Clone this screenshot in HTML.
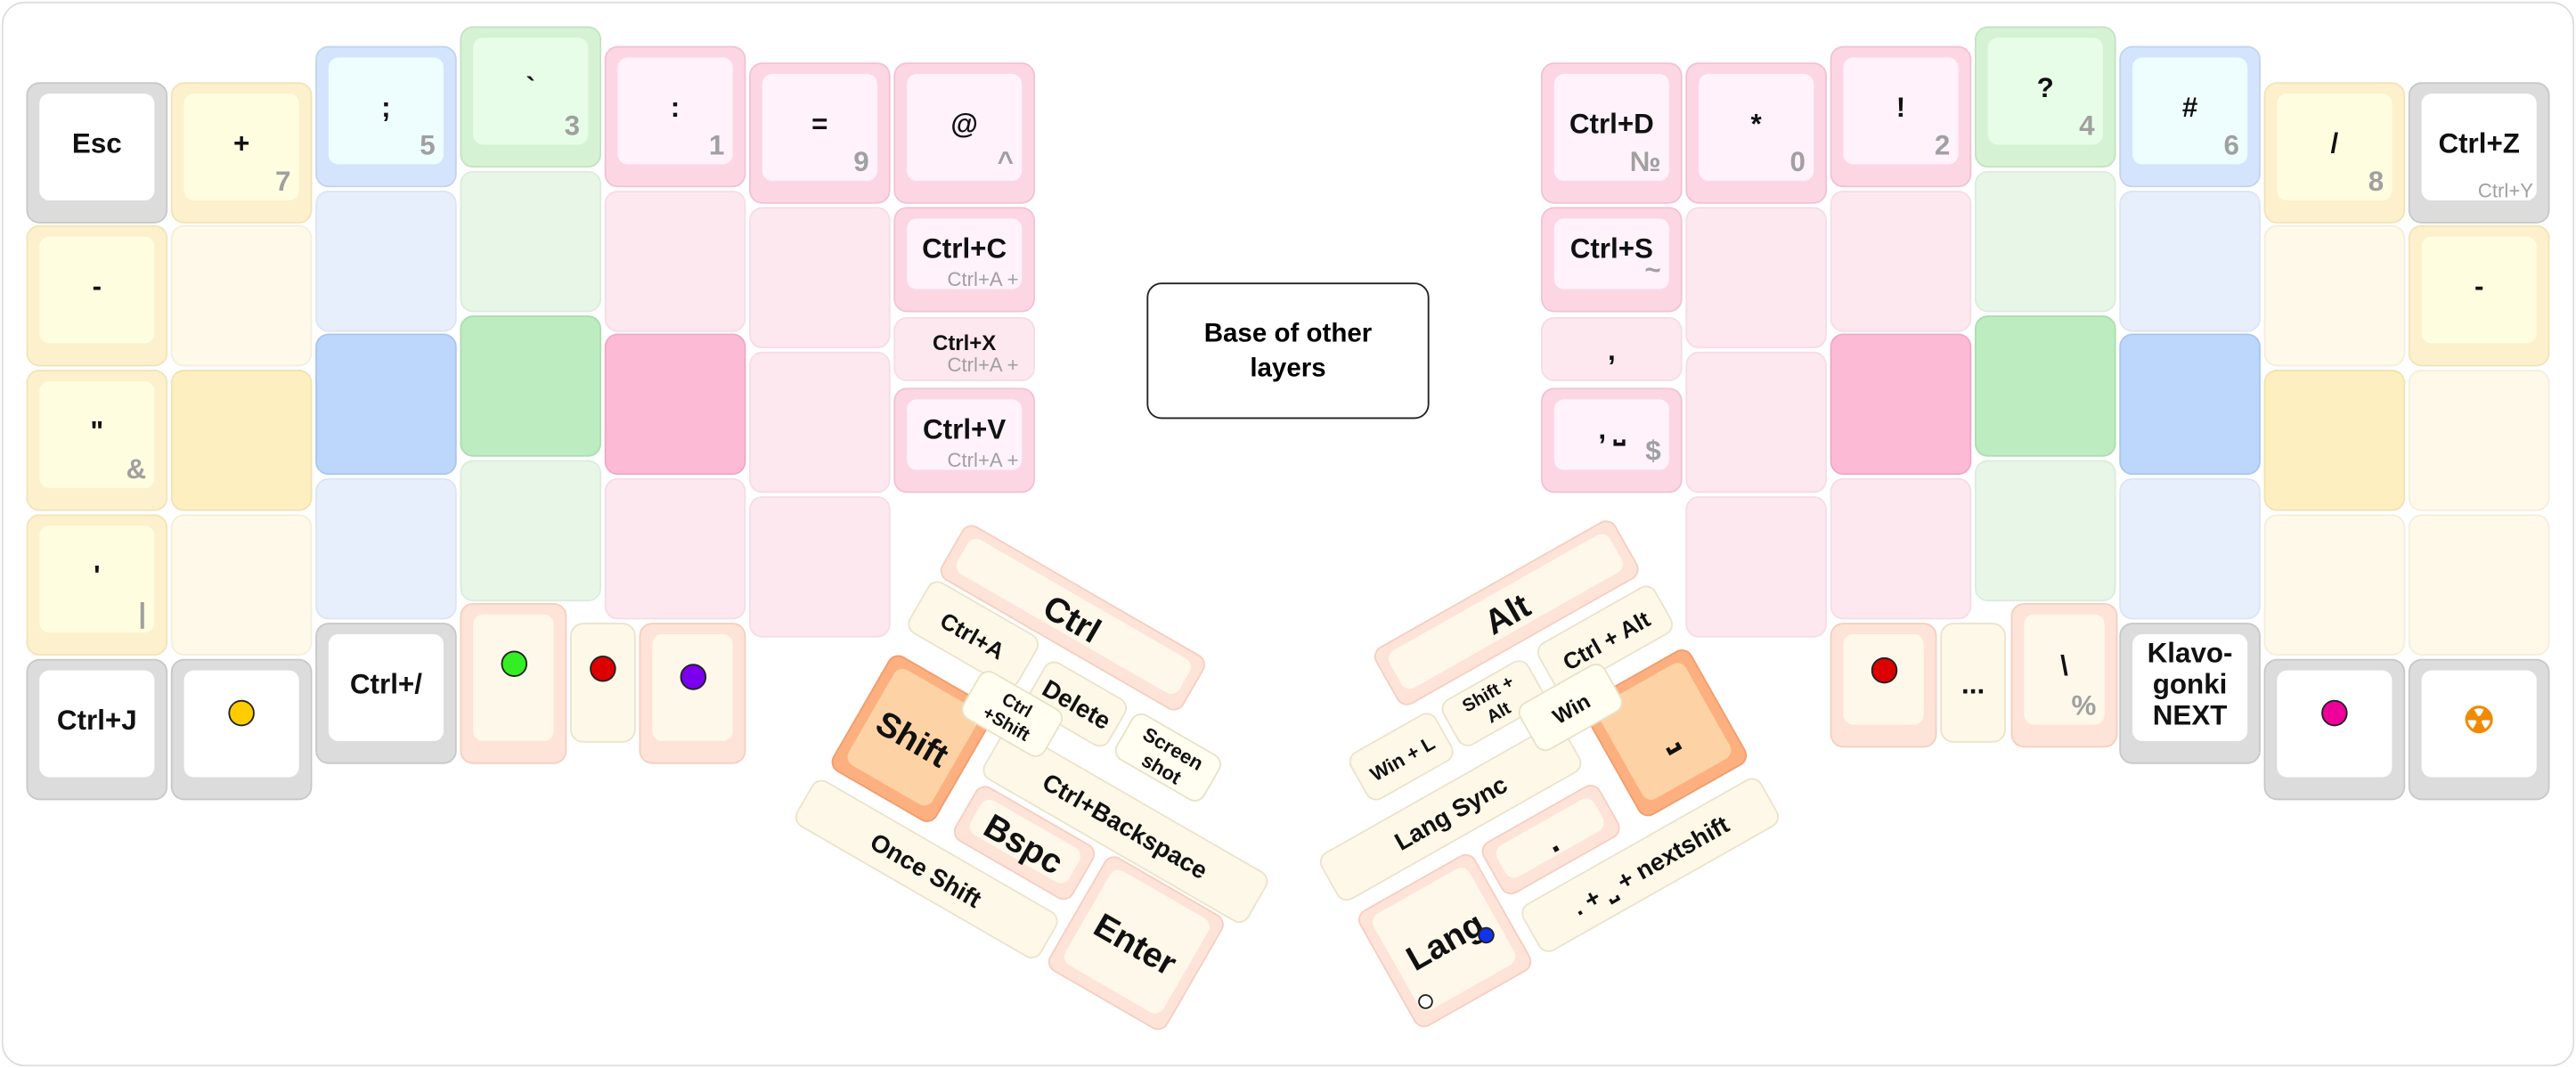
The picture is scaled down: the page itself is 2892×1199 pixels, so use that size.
<!DOCTYPE html>
<html><head><meta charset="utf-8">
<style>
html,body{margin:0;padding:0;background:#fff;}
#root{position:absolute;left:0;top:0;width:1568px;height:650px;transform:scale(1.84439,1.84462);transform-origin:0 0;font-family:"Liberation Sans",sans-serif;}
#frame{position:absolute;left:1px;top:1px;width:1564px;height:646px;border:1px solid #ddd;border-radius:14px;}
.k{position:absolute;box-sizing:border-box;border-radius:8px;}
.f{position:absolute;left:7px;right:7px;top:6px;bottom:13px;border-radius:6px;}
.r .f{left:6px;right:6px;top:5px;bottom:7px;}
.m{position:absolute;left:0;right:0;text-align:center;font-weight:bold;color:#111;font-size:17px;white-space:nowrap;}
.s{position:absolute;right:12px;bottom:14px;color:#a0a0a0;font-size:17px;font-weight:bold;}
.dot{position:absolute;width:14px;height:14px;border-radius:50%;border:1px solid #222;left:50%;top:38%;transform:translate(-50%,-50%);}
</style></head><body>
<div id="root">
<div id="frame"></div>
<div style="position:absolute;left:698px;top:172px;width:172px;height:83px;box-sizing:border-box;border:1.5px solid #222;border-radius:9px;display:flex;align-items:center;justify-content:center;text-align:center;font-weight:bold;font-size:16px;line-height:21px;">Base of other<br>layers</div>
</div>
<script>
const C={
g:['#dcdcdc','#ffffff','#c8c8c8'],y:['#fdf0cc','#fffde0','#f2e4b8'],b:['#d4e4fc','#eefeff','#c2d4ee'],gr:['#d6f2d4','#e8fde8','#c4e2c2'],p:['#fdd6e4','#fff2fb','#f2c2d4'],
ly:['#fef9e9',null,'#f5eedc'],lb:['#e8effc',null,'#dde5f2'],lg:['#e8f6e8',null,'#dcecdc'],lp:['#fde8ef',null,'#f5dde6'],
sy:['#feefc0',null,'#f2e2b0'],sb:['#bdd6fc',null,'#aac6ee'],sg:['#bdecc0',null,'#aadeae'],sp:['#fdbad5',null,'#f0a8c6'],
t:['#fde3d8','#fef8ea','#f5cfc0'],o:['#fdb07f','#fdd3a5','#f29c6c'],c:['#fdf8e8',null,'#ebe3cc'],cw:['#fffef0',null,'#e8e2c8']};
// x,y,w,h,type,label,sub,name
const keys=[
[16,50,86,86,'g','Esc','', 'esc'],[16,137,86,86,'y','-','','minus'],[16,225,86,86,'y','"','&','quote'],[16,313,86,86,'y',"'",'|','apostrophe'],[16,401,86,86,'g','Ctrl+J','','ctrl-j'],
[104,50,86,86,'y','+','7','plus'],[104,137,86,86,'ly','','',''],[104,225,86,86,'sy','','',''],[104,313,86,86,'ly','','',''],[104,401,86,86,'g','@dot:#ffcc00','','yellow-dot'],
[192,28,86,86,'b',';','5','semicolon'],[192,116,86,86,'lb','','',''],[192,203,86,86,'sb','','',''],[192,291,86,86,'lb','','',''],[192,379,86,86,'g','Ctrl+/','','ctrl-slash'],
[280,16,86,86,'gr','`','3','backtick'],[280,104,86,86,'lg','','',''],[280,192,86,86,'sg','','',''],[280,280,86,86,'lg','','',''],
[368,28,86,86,'p',':','1','colon'],[368,116,86,86,'lp','','',''],[368,203,86,86,'sp','','',''],[368,291,86,86,'lp','','',''],
[456,38,86,86,'p','=','9','equals'],[456,126,86,86,'lp','','',''],[456,214,86,86,'lp','','',''],[456,302,86,86,'lp','','',''],
[544,38,86,86,'p','@','^','at'],[544,126,86,64,'p','Ctrl+C','Ctrl+A +','ctrl-c'],[544,193,86,39,'lp','Ctrl+X','Ctrl+A +','ctrl-x'],[544,236,86,64,'p','Ctrl+V','Ctrl+A +','ctrl-v'],
[280,367,65,98,'t','@dot:#33ee22','','green-dot'],[347,379,40,73,'c','@dot:#dd0000','','red-dot'],[389,379,65,86,'t','@dot:#7a00ee','','purple-dot'],
[938,38,86,86,'p','Ctrl+D','№','ctrl-d'],[938,126,86,64,'p','Ctrl+S','~','ctrl-s'],[938,193,86,39,'lp',',','','comma'],[938,236,86,64,'p',', ⎵','$','comma-space'],
[1026,38,86,86,'p','*','0','asterisk'],[1026,126,86,86,'lp','','',''],[1026,214,86,86,'lp','','',''],[1026,302,86,86,'lp','','',''],
[1114,28,86,86,'p','!','2','exclaim'],[1114,116,86,86,'lp','','',''],[1114,203,86,86,'sp','','',''],[1114,291,86,86,'lp','','',''],
[1202,16,86,86,'gr','?','4','question'],[1202,104,86,86,'lg','','',''],[1202,192,86,86,'sg','','',''],[1202,280,86,86,'lg','','',''],
[1290,28,86,86,'b','#','6','hash'],[1290,116,86,86,'lb','','',''],[1290,203,86,86,'sb','','',''],[1290,291,86,86,'lb','','',''],[1290,379,86,86,'g','Klavo-<br>gonki<br>NEXT','','klavogonki'],
[1378,50,86,86,'y','/','8','slash'],[1378,137,86,86,'ly','','',''],[1378,225,86,86,'sy','','',''],[1378,313,86,86,'ly','','',''],[1378,401,86,86,'g','@dot:#ee0099','','magenta-dot'],
[1466,50,86,86,'g','Ctrl+Z','Ctrl+Y','ctrl-z'],[1466,137,86,86,'y','-','','dash'],[1466,225,86,86,'ly','','',''],[1466,313,86,86,'ly','','',''],[1466,401,86,86,'g','☢','','radiation'],
[1114,379,65,76,'t','@dot:#dd0000','','red-dot-right'],[1181,379,40,73,'c','...','','ellipsis'],[1224,367,65,88,'t','\\','%','backslash']
];
// cx,cy,w,h,rot,type,label,fontsize,name
const rkeys=[
[652.5,376,170,38,30,'t','Ctrl',21,'ctrl'],[592.5,386,77,36,30,'c','Ctrl+A',14,'ctrl-a'],[684.5,502,186,35,30,'c','Ctrl+Backspace',15,'ctrl-backspace'],
[655.4,428.4,57,33,30,'c','Delete',15,'delete'],[710.6,460.6,62,32,30,'cw','Screen<br>shot',12,'screenshot'],
[555.6,449.2,73,81,30,'o','Shift',21,'shift'],[615.7,434.6,58,33,30,'cw','Ctrl<br>+Shift',11,'ctrl-shift'],
[623.8,512.5,83,38,30,'t','Bspc',21,'bspc'],[564.4,529,172,32,30,'c','Once Shift',15,'once-shift'],[691.2,573.7,83,80,30,'t','Enter',21,'enter'],
[917.3,373.3,168,40,-29.5,'t','Alt',21,'alt'],[976.5,388.1,82,33,-29.5,'c','Ctrl + Alt',14,'ctrl-alt'],[909.3,428.2,60,32,-29.5,'c','Shift +<br>Alt',11,'shift-alt'],
[853.1,460.9,60,33,-29.5,'c','Win + L',12,'win-l'],[883.2,494.7,170,33,-29.5,'c','Lang Sync',15,'lang-sync'],[1013.6,446.1,75,80,-29.5,'o','⎵',21,'space'],[956.4,430.3,60,33,-29.5,'cw','Win',13,'win'],
[944.4,510.5,82,36,-29.5,'t','.',21,'period'],[1004.6,526.3,167,33,-29.5,'c','. + ⎵ + nextshift',15,'period-space-nextshift'],[879.2,572.7,81,81,-29.5,'t','Lang',21,'lang']
];
const root=document.getElementById('root');
function mk(x,y,w,h,type,label,sub,fs,name){
  const c=C[type];
  const k=document.createElement('div');
  k.className='k';
  
  
  k.style.cssText=`left:${x}px;top:${y}px;width:${w}px;height:${h}px;background:${c[0]};border:1px solid ${c[2]};`;
  if(c[1]){const f=document.createElement('div');f.className='f';f.style.background=c[1];k.appendChild(f);}
  if(label){
    if(label.startsWith('@dot:')){
      const d=document.createElement('div');d.className='dot';d.style.background=label.slice(5);
      
      
      k.appendChild(d);
    } else {
      const m=document.createElement('div');m.className='m';m.innerHTML=label;
      
      
      const lines=(label.match(/<br>/g)||[]).length+1;
      const f=fs||(label.length>5&&h<50?13:17);
      m.style.fontSize=(label==='☢'?22:f)+'px';m.style.lineHeight=(f+2)+'px';
      if(label==='☢')m.style.color='#f08a00';
      const ctr=sub&&h<70?h*0.38:(c[1]&&!fs?h*0.43:h*0.5);
      m.style.top=(ctr-lines*(f+2)/2)+'px';
      k.appendChild(m);
    }
  }
  if(sub){const s=document.createElement('div');s.className='s';s.textContent=sub;
    
    
    if(sub.length>2){s.style.fontSize='12px';s.style.fontWeight='normal';s.style.bottom=(h<50?2:12)+'px';s.style.right='9px';}
    k.appendChild(s);}
  root.appendChild(k);return k;
}
keys.forEach(a=>mk(a[0],a[1],a[2],a[3],a[4],a[5],a[6],0,a[7]));
rkeys.forEach(a=>{const k=mk(a[0]-a[2]/2,a[1]-a[3]/2,a[2],a[3],a[5],a[6],'',a[7],a[8]);
  k.classList.add('r');
  k.style.transform=`rotate(${a[4]}deg)`;k.style.borderRadius='7px';
  if(a[8]==='lang'){const d=document.createElement('div');d.className='dot';d.style.cssText='width:8px;height:8px;background:#1133ee;left:80%;top:62%;';
    
    
    k.appendChild(d);
    const e=document.createElement('div');e.className='dot';e.style.cssText='width:7px;height:7px;background:#fff;left:14%;top:84%;';
    
    
    k.appendChild(e);}
});
</script>
</body></html>
